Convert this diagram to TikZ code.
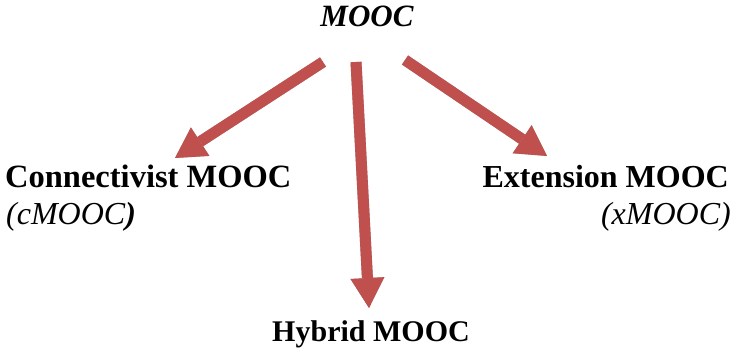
\documentclass[tikz,border=0pt]{standalone}
\usepackage{fontspec}
\setmainfont{Liberation Serif}
\usetikzlibrary{arrows.meta}
\definecolor{arrred}{RGB}{192,80,77}
\definecolor{shadowgray}{RGB}{165,165,165}
\tikzset{
  lbl/.style={inner sep=0pt, font=\fontsize{32}{36}\selectfont},
  bigarrow/.style={line width=11pt, arrred, -{Triangle[width=34pt,length=30pt,line width=0pt]}},
  arrowshadow/.style={line width=11pt, shadowgray, -{Triangle[width=34pt,length=30pt,line width=0pt]}, xshift=1.5pt, yshift=-3pt}
}
\begin{document}
\begin{tikzpicture}[x=1pt,y=-1pt]
\useasboundingbox (0,0) rectangle (737,353);
\node[lbl, anchor=base, font=\fontsize{31}{36}\selectfont\bfseries\itshape] (mooc) at (367,27) {MOOC};
\node[lbl, anchor=base west, font=\fontsize{32.5}{36}\selectfont\bfseries] (conn) at (5,187) {Connectivist MOOC};
\node[lbl, anchor=base west] (cmooc) at (6,224) {\itshape(cMOOC\textbf{)}};
\node[lbl, anchor=base east, font=\fontsize{32}{36}\selectfont\bfseries] (ext) at (729,187) {Extension MOOC};
\node[lbl, anchor=base east] (xmooc) at (731,224) {\itshape(xMOOC)};
\node[lbl, anchor=base, font=\fontsize{30}{36}\selectfont\bfseries] (hyb) at (371,341) {Hybrid MOOC};
\coordinate (lt) at (323,62);
\coordinate (lh) at (175,158);
\coordinate (mt) at (356,62);
\coordinate (mh) at (369,308);
\coordinate (rt) at (405,60);
\coordinate (rh) at (547,156);
\draw[arrowshadow] (lt) -- (lh);
\draw[arrowshadow] (mt) -- (mh);
\draw[arrowshadow] (rt) -- (rh);
\draw[bigarrow] (lt) -- (lh);
\draw[bigarrow] (mt) -- (mh);
\draw[bigarrow] (rt) -- (rh);
\end{tikzpicture}
\end{document}
